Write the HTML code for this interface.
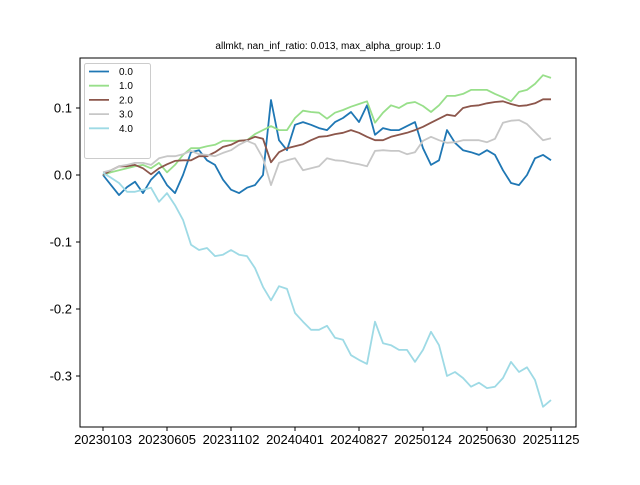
<!DOCTYPE html>
<html><head><meta charset="utf-8"><style>
body{margin:0;background:#fff;}
svg text{font-family:"Liberation Sans","Noto Sans CJK SC",sans-serif;}
</style></head><body>
<svg id="chart" width="640" height="480" xmlns="http://www.w3.org/2000/svg">
<rect width="640" height="480" fill="#fff"/>
<text x="328" y="49" font-size="10" text-anchor="middle" fill="#000">allmkt, nan_inf_ratio: 0.013, max_alpha_group: 1.0</text>
<g id="plot"></g>
<g id="axes"></g>
<g id="legend"></g>
</svg>
<script>
const tickLabels=["20230103","20230605","20231102","20240401","20240827","20250124","20250630","20251125"];
const tickIdx=[0,8,16,24,32,40,48,56];
const yTicks=[-0.3,-0.2,-0.1,0.0,0.1];
const seriesNames=["0.0","1.0","2.0","3.0","4.0"];
const s0=[0,-0.015,-0.03,-0.018,-0.01,-0.027,-0.007,0.005,-0.015,-0.027,0,0.034,0.037,0.022,0.015,-0.007,-0.022,-0.027,-0.019,-0.015,0,0.112,0.052,0.037,0.075,0.079,0.075,0.07,0.067,0.079,0.085,0.094,0.079,0.104,0.06,0.07,0.067,0.067,0.073,0.079,0.04,0.015,0.022,0.067,0.048,0.037,0.034,0.03,0.037,0.03,0.007,-0.012,-0.015,0,0.025,0.03,0.022];
const s1=[0,0.004,0.007,0.01,0.013,0.015,0.01,0.018,0.004,0.015,0.03,0.04,0.04,0.043,0.045,0.051,0.051,0.051,0.052,0.061,0.067,0.073,0.067,0.067,0.085,0.096,0.094,0.093,0.084,0.093,0.097,0.102,0.106,0.11,0.078,0.093,0.104,0.1,0.107,0.109,0.103,0.094,0.104,0.118,0.118,0.121,0.127,0.127,0.127,0.121,0.116,0.11,0.124,0.127,0.136,0.149,0.145];
const s2=[0,0.007,0.013,0.013,0.015,0.01,0.001,0.01,0.016,0.021,0.022,0.022,0.028,0.028,0.034,0.042,0.045,0.051,0.052,0.057,0.054,0.019,0.034,0.04,0.043,0.046,0.052,0.057,0.058,0.061,0.063,0.067,0.063,0.057,0.052,0.052,0.057,0.06,0.063,0.067,0.072,0.078,0.084,0.09,0.088,0.1,0.103,0.104,0.107,0.109,0.11,0.106,0.103,0.104,0.107,0.113,0.113];
const s3=[0.004,0.007,0.013,0.015,0.018,0.018,0.015,0.025,0.028,0.028,0.031,0.036,0.031,0.03,0.028,0.033,0.037,0.045,0.051,0.046,0.025,-0.015,0.018,0.022,0.025,0.007,0.01,0.013,0.025,0.022,0.021,0.018,0.016,0.013,0.036,0.037,0.036,0.036,0.031,0.034,0.051,0.057,0.052,0.048,0.049,0.052,0.052,0.052,0.049,0.054,0.078,0.081,0.082,0.076,0.064,0.052,0.055];
const s4=[0.003,-0.004,-0.012,-0.025,-0.025,-0.022,-0.019,-0.04,-0.027,-0.045,-0.067,-0.104,-0.112,-0.109,-0.121,-0.119,-0.112,-0.119,-0.121,-0.139,-0.167,-0.187,-0.166,-0.17,-0.206,-0.219,-0.231,-0.231,-0.225,-0.243,-0.246,-0.269,-0.276,-0.282,-0.219,-0.251,-0.254,-0.261,-0.261,-0.279,-0.261,-0.234,-0.254,-0.3,-0.294,-0.303,-0.316,-0.31,-0.318,-0.316,-0.303,-0.279,-0.294,-0.287,-0.306,-0.346,-0.336];
const colors=["#1f77b4","#98df8a","#8c564b","#c7c7c7","#9edae5"];
const NS="http://www.w3.org/2000/svg";
const L=80,R=576,T=58,B=427;
function xs(i){return 103+i*(551-103)/56;}
function ys(v){return 175-v*670;}
function mk(tag,attrs,parent){const e=document.createElementNS(NS,tag);for(const k in attrs)e.setAttribute(k,attrs[k]);parent.appendChild(e);return e;}
const plot=document.getElementById('plot'),axes=document.getElementById('axes'),leg=document.getElementById('legend');
[s0,s1,s2,s3,s4].forEach((s,k)=>{
  const d=s.map((v,i)=>(i?'L':'M')+xs(i).toFixed(1)+' '+ys(v).toFixed(1)).join(' ');
  const p=mk('path',{d:d,fill:'none',stroke:colors[k],'stroke-width':1.8,'stroke-linejoin':'round'},plot);
  
  
});
const fr=mk('rect',{x:L,y:T,width:R-L,height:B-T,fill:'none',stroke:'#000','stroke-width':1},axes);


tickIdx.forEach((ix,j)=>{
  const x=xs(ix);
  mk('line',{x1:x,y1:B,x2:x,y2:B+4,stroke:'#000'},axes);
  const t=mk('text',{x:x,y:B+17,'font-size':13,'text-anchor':'middle'},axes);
  t.textContent=tickLabels[j];
  
  
});
yTicks.forEach(v=>{
  const y=ys(v);
  mk('line',{x1:L-4,y1:y,x2:L,y2:y,stroke:'#000'},axes);
  const t=mk('text',{x:L-8,y:y+4.5,'font-size':13,'text-anchor':'end'},axes);
  t.textContent=v.toFixed(1);
  
  
});
const lb=mk('rect',{x:84.5,y:63.5,width:66,height:95,rx:2,fill:'#fff',stroke:'#ccc'},leg);


seriesNames.forEach((n,k)=>{
  const y=71.5+k*14.2;
  const g=mk('g',{},leg);
  
  
  mk('line',{x1:89,y1:y,x2:109,y2:y,stroke:colors[k],'stroke-width':1.8},g);
  const t=mk('text',{x:119,y:y+3.5,'font-size':10},g);
  t.textContent=n;
});
</script>
</body></html>
